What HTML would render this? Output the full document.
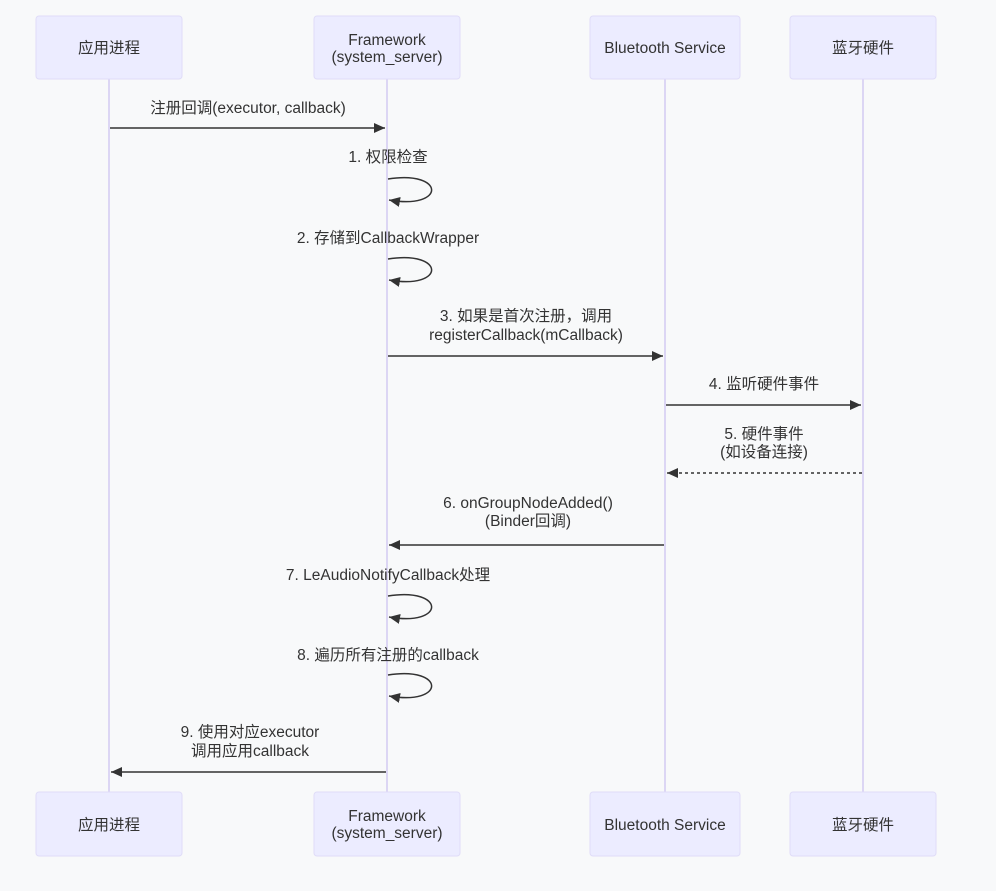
<!DOCTYPE html>
<html><head><meta charset="utf-8"><style>
html,body{margin:0;padding:0;background:#f8f9fa;}
svg{display:block;font-family:"Liberation Sans","Noto Sans CJK SC",sans-serif;}
</style></head><body>
<svg width="996" height="891" viewBox="0 0 996 891" xmlns="http://www.w3.org/2000/svg">
<defs>
<marker id="a" markerWidth="12" markerHeight="12" refX="11" refY="5" orient="auto" markerUnits="userSpaceOnUse"><path d="M0,0 L11,5 L0,10 z" fill="#333"/></marker>
</defs>
<rect width="996" height="891" fill="#f8f9fa"/>
<g stroke="#dcd6f4" stroke-width="2">
<line x1="109" y1="79" x2="109" y2="792"/>
<line x1="387" y1="79" x2="387" y2="792"/>
<line x1="665" y1="79" x2="665" y2="792"/>
<line x1="863" y1="79" x2="863" y2="792"/>
</g>
<g fill="#ececff" stroke="#e0dcf8" stroke-width="1">
<rect x="36" y="16" width="146" height="63" rx="3"/>
<rect x="314" y="16" width="146" height="63" rx="3"/>
<rect x="590" y="16" width="150" height="63" rx="3"/>
<rect x="790" y="16" width="146" height="63" rx="3"/>
<rect x="36" y="792" width="146" height="64" rx="3"/>
<rect x="314" y="792" width="146" height="64" rx="3"/>
<rect x="590" y="792" width="150" height="64" rx="3"/>
<rect x="790" y="792" width="146" height="64" rx="3"/>
</g>
<g font-size="15.5" fill="#333" text-anchor="middle">
<text x="109" y="53">应用进程</text>
<text x="387" y="45">Framework</text><text x="387" y="62">(system_server)</text>
<text x="665" y="53">Bluetooth Service</text>
<text x="863" y="53">蓝牙硬件</text>
<text x="109" y="830">应用进程</text>
<text x="387" y="821">Framework</text><text x="387" y="838">(system_server)</text>
<text x="665" y="830">Bluetooth Service</text>
<text x="863" y="830">蓝牙硬件</text>

<text x="248" y="113">注册回调(executor, callback)</text>
<text x="388" y="162">1. 权限检查</text>
<text x="388" y="243">2. 存储到CallbackWrapper</text>
<text x="526" y="321">3. 如果是首次注册，调用</text>
<text x="526" y="340">registerCallback(mCallback)</text>
<text x="764" y="389">4. 监听硬件事件</text>
<text x="764" y="439">5. 硬件事件</text>
<text x="764" y="457">(如设备连接)</text>
<text x="528" y="508">6. onGroupNodeAdded()</text>
<text x="528" y="526">(Binder回调)</text>
<text x="388" y="580">7. LeAudioNotifyCallback处理</text>
<text x="388" y="660">8. 遍历所有注册的callback</text>
<text x="250" y="737">9. 使用对应executor</text>
<text x="250" y="756">调用应用callback</text>
</g>
<g stroke="#333" stroke-width="1.5" fill="none">
<line x1="110" y1="128" x2="385" y2="128" marker-end="url(#a)"/>
<path d="M388,179 C446,170 446,210 389,200" marker-end="url(#a)"/>
<path d="M388,259 C446,250 446,290 389,280" marker-end="url(#a)"/>
<line x1="388" y1="356" x2="663" y2="356" marker-end="url(#a)"/>
<line x1="666" y1="405" x2="861" y2="405" marker-end="url(#a)"/>
<line x1="862" y1="473" x2="667" y2="473" stroke-dasharray="3,3" marker-end="url(#a)"/>
<line x1="664" y1="545" x2="389" y2="545" marker-end="url(#a)"/>
<path d="M388,596 C446,587 446,627 389,617" marker-end="url(#a)"/>
<path d="M388,675 C446,666 446,706 389,696" marker-end="url(#a)"/>
<line x1="386" y1="772" x2="111" y2="772" marker-end="url(#a)"/>
</g>
</svg>
</body></html>
